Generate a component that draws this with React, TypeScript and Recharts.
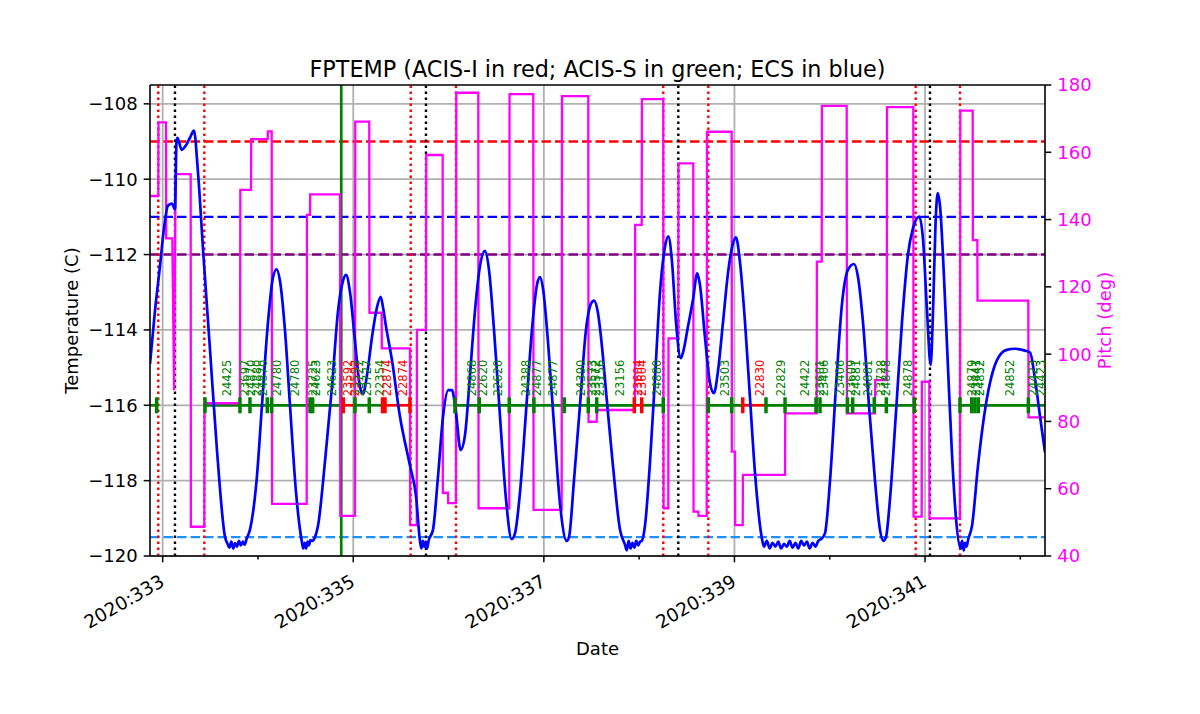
import React from "react";
import {
  ComposedChart,
  Line,
  Scatter,
  XAxis,
  YAxis,
  ReferenceLine,
  Label,
} from "recharts";

const FONT = "DejaVu Sans";

// time in day-of-year 2020, temperature in C
const fptemp: [number, number][] = [
  [332.867, -114.9], [332.919, -113.5], [332.972, -112.3], [333.014, -111.3], [333.056, -110.7],
  [333.098, -110.65], [333.129, -110.8], [333.145, -109.0], [333.155, -108.9], [333.199, -109.22],
  [333.245, -109.1], [333.286, -108.9], [333.328, -108.71], [333.37, -109.8], [333.426, -111.96],
  [333.496, -114.5], [333.57, -117.2], [333.654, -119.49], [333.685, -119.7],
  [333.7, -119.78], [333.72, -119.62], [333.74, -119.8], [333.76, -119.66], [333.78, -119.75],
  [333.8, -119.6], [333.82, -119.72], [333.84, -119.62], [333.86, -119.7], [333.88, -119.55],
  [333.916, -119.3], [333.986, -117.98], [334.042, -116.0], [334.105, -113.8], [334.158, -112.6],
  [334.196, -112.39], [334.231, -112.7], [334.283, -114.0], [334.336, -116.0], [334.399, -118.3],
  [334.459, -119.6], [334.475, -119.8], [334.49, -119.65], [334.505, -119.8], [334.52, -119.62],
  [334.535, -119.72], [334.55, -119.58], [334.57, -119.6],
  [334.598, -119.5], [334.63, -119.2], [334.703, -117.5], [334.777, -115.5], [334.84, -113.5],
  [334.892, -112.7], [334.924, -112.54], [334.966, -113.0], [335.018, -114.3], [335.07, -115.5],
  [335.102, -115.7], [335.144, -115.2], [335.196, -114.2], [335.249, -113.4], [335.288, -113.12],
  [335.312, -113.4], [335.343, -113.9], [335.406, -114.8], [335.49, -116.3], [335.595, -117.6],
  [335.658, -118.4], [335.7, -119.6],
  [335.715, -119.8], [335.73, -119.6], [335.745, -119.75], [335.76, -119.62], [335.775, -119.8],
  [335.79, -119.6],
  [335.837, -119.3], [335.889, -117.9], [335.942, -116.3], [335.997, -115.6], [336.036, -115.6],
  [336.078, -116.2], [336.127, -117.19], [336.172, -116.8], [336.225, -115.2], [336.277, -113.5],
  [336.33, -112.3], [336.382, -111.9], [336.424, -112.4], [336.477, -114.0], [336.54, -116.3],
  [336.603, -118.5], [336.662, -119.55], [336.697, -119.4], [336.75, -118.3], [336.812, -116.2],
  [336.875, -114.0], [336.928, -112.8], [336.959, -112.6], [336.991, -112.9], [337.043, -114.3],
  [337.106, -116.5], [337.169, -118.6], [337.24, -119.6], [337.264, -119.5], [337.316, -118.0],
  [337.379, -116.0], [337.442, -114.0], [337.495, -113.3], [337.526, -113.22], [337.568, -113.55],
  [337.6, -114.2], [337.662, -115.9], [337.725, -117.6], [337.799, -119.3], [337.851, -119.7],
  [337.87, -119.85], [337.89, -119.6], [337.91, -119.8], [337.93, -119.65], [337.95, -119.78],
  [337.97, -119.6], [337.99, -119.72], [338.01, -119.62],
  [338.027, -119.6], [338.061, -119.2], [338.114, -117.5], [338.166, -115.3], [338.219, -113.0],
  [338.271, -111.8], [338.306, -111.52], [338.345, -112.2], [338.387, -113.8], [338.436, -114.75],
  [338.46, -114.6], [338.513, -113.9], [338.565, -113.2], [338.61, -112.5], [338.638, -112.8],
  [338.691, -114.2], [338.743, -115.4], [338.785, -115.68], [338.827, -115.1], [338.88, -113.8],
  [338.932, -112.5], [338.985, -111.7], [339.016, -111.54], [339.058, -112.2], [339.111, -113.8],
  [339.163, -115.8], [339.216, -117.8], [339.286, -119.5],
  [339.31, -119.75], [339.34, -119.6], [339.37, -119.8], [339.4, -119.65], [339.43, -119.75],
  [339.46, -119.62], [339.49, -119.8], [339.52, -119.68], [339.55, -119.75], [339.58, -119.6],
  [339.61, -119.78], [339.64, -119.65], [339.67, -119.8], [339.7, -119.6], [339.73, -119.72],
  [339.76, -119.62], [339.79, -119.8], [339.82, -119.65], [339.85, -119.75], [339.88, -119.6],
  [339.91, -119.55],
  [339.95, -119.4], [340.003, -118.0], [340.066, -115.5], [340.129, -113.3], [340.192, -112.4],
  [340.255, -112.25], [340.297, -112.6], [340.349, -113.8], [340.412, -116.0], [340.475, -118.0],
  [340.527, -119.3], [340.562, -119.6], [340.59, -119.5], [340.632, -118.5], [340.695, -116.2],
  [340.758, -113.8], [340.821, -112.0], [340.874, -111.3], [340.94, -110.99], [340.979, -111.6],
  [341.021, -113.5], [341.059, -114.93], [341.084, -113.5], [341.11, -111.2], [341.133, -110.37],
  [341.157, -110.7], [341.199, -112.6], [341.241, -115.0], [341.283, -117.3], [341.325, -119.0],
  [341.374, -119.8], [341.39, -119.6], [341.405, -119.85], [341.42, -119.65], [341.435, -119.75],
  [341.454, -119.55], [341.493, -119.2], [341.556, -117.6], [341.619, -116.3], [341.682, -115.4],
  [341.755, -114.8], [341.857, -114.53], [341.944, -114.5], [342.049, -114.55], [342.102, -114.6],
  [342.154, -115.3], [342.207, -116.3], [342.259, -117.25],
];

// time, pitch in degrees
const pitch: [number, number][] = [
  [332.867, 147], [332.954, 147], [332.956, 168.9], [333.035, 168.9], [333.037, 134.4],
  [333.101, 134.4], [333.12, 89.3], [333.135, 153.5], [333.294, 153.5], [333.296, 48.7],
  [333.437, 48.7], [333.439, 85.4], [333.811, 85.4], [333.815, 148.8], [333.927, 148.8],
  [333.929, 163.9], [334.102, 163.9], [334.104, 166.2], [334.144, 166.2], [334.148, 55.5],
  [334.511, 55.5], [334.514, 141.4], [334.546, 141.4], [334.548, 147.5], [334.861, 147.5],
  [334.864, 51.9], [335.018, 51.9], [335.021, 169.1], [335.168, 169.1], [335.17, 112.3],
  [335.298, 112.3], [335.3, 101.7], [335.595, 101.7], [335.597, 49.2], [335.666, 49.2],
  [335.668, 107.2], [335.763, 107.2], [335.766, 159.2], [335.938, 159.2], [335.94, 58.8],
  [335.994, 58.8], [335.996, 55.7], [336.078, 55.7], [336.081, 177.7], [336.312, 177.7],
  [336.315, 54.2], [336.637, 54.2], [336.64, 177.3], [336.889, 177.3], [336.892, 53.7],
  [337.187, 53.7], [337.19, 176.7], [337.466, 176.7], [337.469, 79.9], [337.555, 79.9],
  [337.557, 83.4], [337.956, 83.4], [337.958, 138.4], [338.027, 138.4], [338.029, 175.8],
  [338.253, 175.8], [338.256, 54.2], [338.306, 54.2], [338.308, 104.7], [338.411, 104.7],
  [338.413, 156.7], [338.568, 156.7], [338.571, 53.2], [338.621, 53.2], [338.623, 51.9],
  [338.709, 51.9], [338.712, 166.1], [338.971, 166.1], [338.973, 71], [339.006, 71],
  [339.008, 49.2], [339.087, 49.2], [339.089, 64.1], [339.531, 64.1], [339.533, 82.4],
  [339.863, 82.4], [339.865, 127.5], [339.916, 127.5], [339.918, 173.8], [340.178, 173.8],
  [340.181, 82.4], [340.475, 82.4], [340.477, 92.3], [340.598, 92.3], [340.601, 173.4],
  [340.877, 173.4], [340.88, 51.7], [340.965, 51.7], [340.967, 91.8], [341.045, 91.8],
  [341.047, 51.2], [341.367, 51.2], [341.37, 172.4], [341.5, 172.4], [341.502, 133.9],
  [341.549, 133.9], [341.551, 115.9], [342.084, 115.9], [342.086, 81.2], [342.259, 81.2],
];

// obsid spans on the -116 line: start, stop, instrument (I = ACIS-I, S = ACIS-S)
const obsSpans: [number, number, string][] = [
  [332.867, 332.954, "S"], [333.437, 334.895, "S"], [334.895, 335.018, "I"],
  [335.018, 335.307, "S"], [335.307, 335.603, "I"], [336.078, 337.949, "S"],
  [337.949, 338.027, "I"], [338.027, 338.253, "S"], [338.726, 339.087, "S"],
  [339.087, 339.331, "I"], [339.331, 340.902, "S"], [341.367, 342.259, "S"],
];

const obsTicks: [number, string][] = [
  [332.937, "S"], [333.444, "S"], [333.811, "S"], [333.916, "S"], [334.098, "S"],
  [334.144, "S"], [334.546, "S"], [334.574, "S"], [334.895, "I"], [335.018, "S"],
  [335.168, "S"], [335.307, "I"], [335.333, "I"], [335.595, "I"], [336.067, "S"],
  [336.322, "S"], [336.637, "S"], [336.896, "S"], [337.214, "S"], [337.466, "S"],
  [337.555, "S"], [337.949, "I"], [338.027, "I"], [338.253, "S"], [338.726, "S"],
  [338.971, "S"], [339.087, "I"], [339.331, "S"], [339.531, "S"], [339.856, "S"],
  [339.898, "S"], [340.186, "S"], [340.241, "S"], [340.467, "S"], [340.594, "S"],
  [340.887, "S"], [341.367, "S"], [341.49, "S"], [341.524, "S"], [341.559, "S"],
  [342.084, "S"],
];

const obsLabels: [number, string, string][] = [
  [333.675, "24425", "S"], [333.864, "23697", "S"], [333.927, "24870", "S"],
  [333.99, "24880", "S"], [334.053, "24870", "S"], [334.196, "24780", "S"],
  [334.388, "24780", "S"], [334.577, "23725", "S"], [334.609, "24623", "S"],
  [334.773, "24623", "S"], [334.948, "23592", "I"], [335.018, "23592", "I"],
  [335.06, "23727", "S"], [335.141, "23727", "S"], [335.28, "22354", "S"],
  [335.357, "22874", "I"], [335.525, "22874", "I"],
  [336.243, "24868", "S"], [336.364, "22620", "S"], [336.522, "22620", "S"],
  [336.812, "24388", "S"], [336.931, "24877", "S"], [337.099, "24877", "S"],
  [337.387, "24390", "S"], [337.505, "23573", "S"], [337.547, "23572", "S"],
  [337.589, "23156", "S"], [337.799, "23156", "S"], [337.991, "23604", "I"],
  [338.025, "23604", "I"], [338.19, "24880", "S"], [338.901, "23503", "S"],
  [339.268, "22830", "I"], [339.489, "22829", "S"], [339.74, "24422", "S"],
  [339.898, "23601", "S"], [339.94, "23406", "S"], [340.108, "23406", "S"],
  [340.223, "23609", "S"], [340.276, "24881", "S"], [340.401, "24881", "S"],
  [340.538, "23728", "S"], [340.59, "24878", "S"], [340.821, "24878", "S"],
  [341.49, "24879", "S"], [341.535, "23441", "S"], [341.577, "24852", "S"],
  [341.892, "24852", "S"], [342.133, "24423", "S"], [342.217, "24423", "S"],
];

const radZoneTimes = [332.954, 333.437, 335.603, 336.078, 338.253, 338.726, 340.902, 341.367];
const perigeeTimes = [333.129, 335.763, 338.411, 341.052];
const commTimes = [334.874];

const limitTemps = [-109, -111, -112, -119.5];
const limitColors = ["#ff0000", "#0000ff", "#800080", "#1e90ff"];

const obsLevel = -116;
const tempTicks = [-120, -118, -116, -114, -112, -110, -108];
const pitchTicks = [40, 60, 80, 100, 120, 140, 160, 180];
const dayTicks = [333, 334, 335, 336, 337, 338, 339, 340, 341, 342];
const xDomain = [332.867, 342.259];

const instrColor = (i: string) => (i === "I" ? "#ff0000" : "#008000");

const tempData = fptemp.map(([t, v]) => ({ t, temp: v }));
const pitchData = pitch.map(([t, v]) => ({ t, pitch: v }));
const tickData = obsTicks.map(([t, i]) => ({ t, y: obsLevel, instr: i }));
const labelData = obsLabels.map(([t, id, i]) => ({ t, y: obsLevel, obsid: id, instr: i }));

function DateTick(props: any) {
  const { x, y, payload } = props;
  const major = payload.value % 2 === 1;
  const tx = x + 3;
  const ty = y + 29;
  return (
    <g>
      <line x1={x} y1={y} x2={x} y2={y + (major ? 6.3 : 3.6)} stroke="#000" strokeWidth={1.5} />
      {major && (
        <text
          x={tx}
          y={ty}
          textAnchor="end"
          transform={`rotate(-30, ${tx}, ${ty})`}
          fontFamily={FONT}
          fontSize={18.5}
          fill="#000"
        >
          {`2020:${payload.value}`}
        </text>
      )}
    </g>
  );
}

function ObsTick(props: any) {
  const { cx, cy, payload } = props;
  return (
    <line x1={cx} y1={cy - 8} x2={cx} y2={cy + 8} stroke={instrColor(payload.instr)} strokeWidth={3.5} />
  );
}

function ObsLabel(props: any) {
  const { cx, cy, payload } = props;
  return (
    <text
      transform={`translate(${cx},${cy - 9}) rotate(-90)`}
      textAnchor="start"
      dominantBaseline="central"
      fontFamily={FONT}
      fontSize={11.5}
      fill={instrColor(payload.instr)}
    >
      {payload.obsid}
    </text>
  );
}

const minus = (v: number) => (v < 0 ? `\u2212${Math.abs(v)}` : `${v}`);

export default function App() {
  return (
    <div style={{ position: "absolute", left: 0, top: 0 }}>
      <ComposedChart width={1200} height={714} margin={{ top: 85, right: 0, bottom: 0, left: 0 }}>
        <XAxis
          dataKey="t"
          type="number"
          domain={xDomain}
          allowDataOverflow
          ticks={dayTicks}
          interval={0}
          height={158}
          tickSize={0}
          tickMargin={0}
          tick={<DateTick />}
          axisLine={{ stroke: "#000", strokeWidth: 1.6 }}
          tickLine={false}
        >
          <Label
            content={(p: any) => (
              <text
                x={p.viewBox.x + p.viewBox.width / 2}
                y={p.viewBox.y + 99}
                textAnchor="middle"
                fontFamily={FONT}
                fontSize={18}
                fill="#000"
              >
                Date
              </text>
            )}
          />
        </XAxis>
        <YAxis
          yAxisId="temp"
          domain={[-120, -107.5]}
          allowDataOverflow
          ticks={tempTicks}
          width={150}
          tickSize={6.3}
          tickMargin={6}
          tickFormatter={minus}
          tick={{ fill: "#000", fontSize: 18, fontFamily: FONT }}
          tickLine={{ stroke: "#000", strokeWidth: 1.5 }}
          axisLine={{ stroke: "#000", strokeWidth: 1.6 }}
        >
          <Label
            content={(p: any) => {
              const x = 71;
              const y = p.viewBox.y + p.viewBox.height / 2;
              return (
                <text
                  x={x}
                  y={y}
                  transform={`rotate(-90, ${x}, ${y})`}
                  textAnchor="middle"
                  dominantBaseline="central"
                  fontFamily={FONT}
                  fontSize={18}
                  fill="#000"
                >
                  Temperature (C)
                </text>
              );
            }}
          />
        </YAxis>
        <YAxis
          yAxisId="pitch"
          orientation="right"
          domain={[40, 180]}
          allowDataOverflow
          ticks={pitchTicks}
          width={155}
          tickSize={6.3}
          tickMargin={6}
          tick={{ fill: "#ff00ff", fontSize: 18, fontFamily: FONT }}
          tickLine={{ stroke: "#000", strokeWidth: 1.5 }}
          axisLine={{ stroke: "#000", strokeWidth: 1.6 }}
        >
          <Label
            content={(p: any) => {
              const x = p.viewBox.x + 59;
              const y = p.viewBox.y + p.viewBox.height / 2;
              return (
                <text
                  x={x}
                  y={y}
                  transform={`rotate(-90, ${x}, ${y})`}
                  textAnchor="middle"
                  dominantBaseline="central"
                  fontFamily={FONT}
                  fontSize={18}
                  fill="#ff00ff"
                >
                  Pitch (deg)
                </text>
              );
            }}
          />
        </YAxis>

        {tempTicks.map((v) => (
          <ReferenceLine key={`gy${v}`} yAxisId="temp" y={v} stroke="#b0b0b0" strokeWidth={1.8} />
        ))}
        {dayTicks
          .filter((d) => d % 2 === 1)
          .map((d) => (
            <ReferenceLine key={`gx${d}`} yAxisId="temp" x={d} stroke="#b0b0b0" strokeWidth={1.8} />
          ))}

        {limitTemps.map((v, i) => (
          <ReferenceLine
            key={`lim${v}`}
            yAxisId="temp"
            y={v}
            stroke={limitColors[i]}
            strokeWidth={2.4}
            strokeDasharray="9.5 4"
          />
        ))}
        {radZoneTimes.map((t) => (
          <ReferenceLine
            key={`rz${t}`}
            yAxisId="temp"
            x={t}
            stroke="#ff0000"
            strokeWidth={2.4}
            strokeDasharray="2.4 3.6"
          />
        ))}
        {perigeeTimes.map((t) => (
          <ReferenceLine
            key={`pg${t}`}
            yAxisId="temp"
            x={t}
            stroke="#000"
            strokeWidth={2.4}
            strokeDasharray="2.4 3.6"
          />
        ))}
        {commTimes.map((t) => (
          <ReferenceLine key={`cm${t}`} yAxisId="temp" x={t} stroke="#008000" strokeWidth={2.7} />
        ))}
        {obsSpans.map(([a, b, i]) => (
          <ReferenceLine
            key={`sp${a}`}
            yAxisId="temp"
            segment={[
              { x: a, y: obsLevel },
              { x: b, y: obsLevel },
            ]}
            stroke={instrColor(i)}
            strokeWidth={2.7}
          />
        ))}
        <ReferenceLine
          yAxisId="temp"
          y={-107.5}
          stroke="#000"
          strokeWidth={1.6}
          label={(p: any) => (
            <text
              x={p.viewBox.x + p.viewBox.width / 2}
              y={p.viewBox.y - 8}
              textAnchor="middle"
              fontFamily={FONT}
              fontSize={22.3}
              fill="#000"
            >
              FPTEMP (ACIS-I in red; ACIS-S in green; ECS in blue)
            </text>
          )}
        />

        <Line
          yAxisId="pitch"
          data={pitchData}
          dataKey="pitch"
          type="linear"
          stroke="#ff00ff"
          strokeWidth={2.3}
          dot={false}
          isAnimationActive={false}
        />
        <Line
          yAxisId="temp"
          data={tempData}
          dataKey="temp"
          type="monotone"
          stroke="#0000ff"
          strokeWidth={2.7}
          dot={false}
          isAnimationActive={false}
        />
        <Scatter
          yAxisId="temp"
          data={tickData}
          dataKey="y"
          shape={<ObsTick />}
          isAnimationActive={false}
        />
        <Scatter
          yAxisId="temp"
          data={labelData}
          dataKey="y"
          shape={<ObsLabel />}
          isAnimationActive={false}
        />
      </ComposedChart>
    </div>
  );
}
